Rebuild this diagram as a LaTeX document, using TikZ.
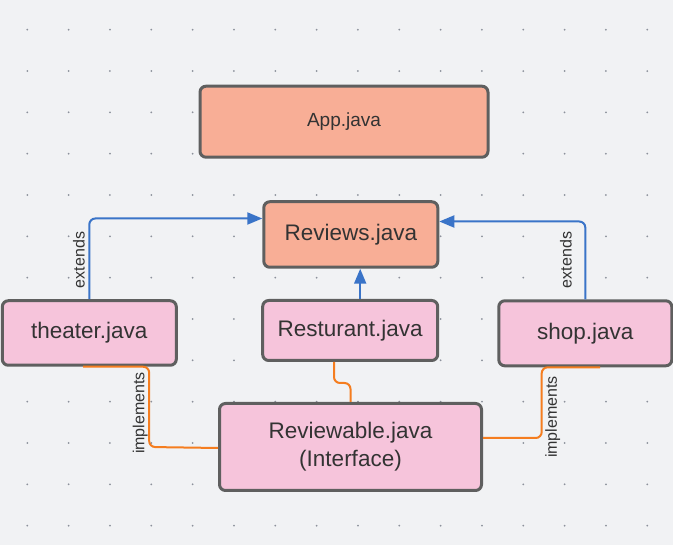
\documentclass[tikz,border=0pt]{standalone}
\usepackage{fontspec}
\setmainfont{Liberation Sans}
\usetikzlibrary{arrows.meta,calc}
\definecolor{bg}{HTML}{F1F2F4}
\definecolor{dotc}{HTML}{8C919B}
\definecolor{salmon}{HTML}{F8AE96}
\definecolor{pinkf}{HTML}{F6C4DB}
\definecolor{bordc}{HTML}{5F5F5F}
\definecolor{bluec}{HTML}{3A74C8}
\definecolor{orangec}{HTML}{F57D1F}
\definecolor{txtc}{HTML}{333333}
\tikzset{
  box/.style={draw=bordc, line width=3pt, rounded corners=6pt, text=txtc, align=center,
    font=\fontsize{22.5}{28}\selectfont, inner sep=0pt},
  salmonbox/.style={box, fill=salmon},
  pinkbox/.style={box, fill=pinkf},
  ext/.style={draw=bluec, line width=2pt, rounded corners=6pt, -{Triangle[length=15pt,width=12pt]}},
  impl/.style={draw=orangec, line width=2pt, rounded corners=6pt},
  lbl/.style={font=\fontsize{16}{18}\selectfont, text=txtc, rotate=90, inner sep=0pt},
}
\begin{document}
\begin{tikzpicture}[x=1pt,y=-1pt]
\fill[bg] (0,0) rectangle (673,545);
\useasboundingbox (0,0) rectangle (673,545);
\foreach \i in {0,...,15} {
  \foreach \j in {0,...,12} {
    \fill[dotc] ({27.3+41.33*\i},{29.7+41.33*\j}) circle (1pt);
  }
}
\node[salmonbox, minimum width=288pt, minimum height=71pt, font=\fontsize{19}{22}\selectfont] (app) at (344,121.7) {App.java};
\node[salmonbox, minimum width=174pt, minimum height=65.5pt] (reviews) at (350.8,234.5) {Reviews.java};
\node[pinkbox, minimum width=174pt, minimum height=64.5pt] (theater) at (89.3,333) {theater.java};
\node[pinkbox, minimum width=175pt, minimum height=60pt] (resturant) at (350.2,330.5) {Resturant.java};
\node[pinkbox, minimum width=173pt, minimum height=65pt] (shop) at (585.3,333.3) {shop.java};
\node[pinkbox, minimum width=262pt, minimum height=87pt] (reviewable) at (350.5,447) {Reviewable.java\\(Interface)};

\draw[ext] (theater.north) |- ([yshift=16pt]reviews.west);
\node[lbl, anchor=south] (ext1) at (85,260) {extends};
\draw[ext] (shop.north) |- ([yshift=13pt]reviews.east);
\node[lbl, anchor=south] (ext2) at (572,260) {extends};
\draw[ext] ([xshift=10pt]resturant.north) -- ([xshift=9.4pt]reviews.south);

\draw[impl] ([xshift=-6.3pt]theater.south) -| ([xshift=-68.8pt]reviewable.west) -- ([yshift=-1pt]reviewable.west);
\node[lbl, anchor=south] (impl1) at (148,413) {implements};
\draw[impl] ([xshift=-16.2pt]resturant.south) -- ++(0,21) -| (reviewable.north);
\draw[impl] ([yshift=9pt]reviewable.east) -| ([xshift=-43.6pt]shop.south) -- ([xshift=14.7pt]shop.south);
\node[lbl, anchor=north] (impl2) at (545,417) {implements};
\end{tikzpicture}
\end{document}
